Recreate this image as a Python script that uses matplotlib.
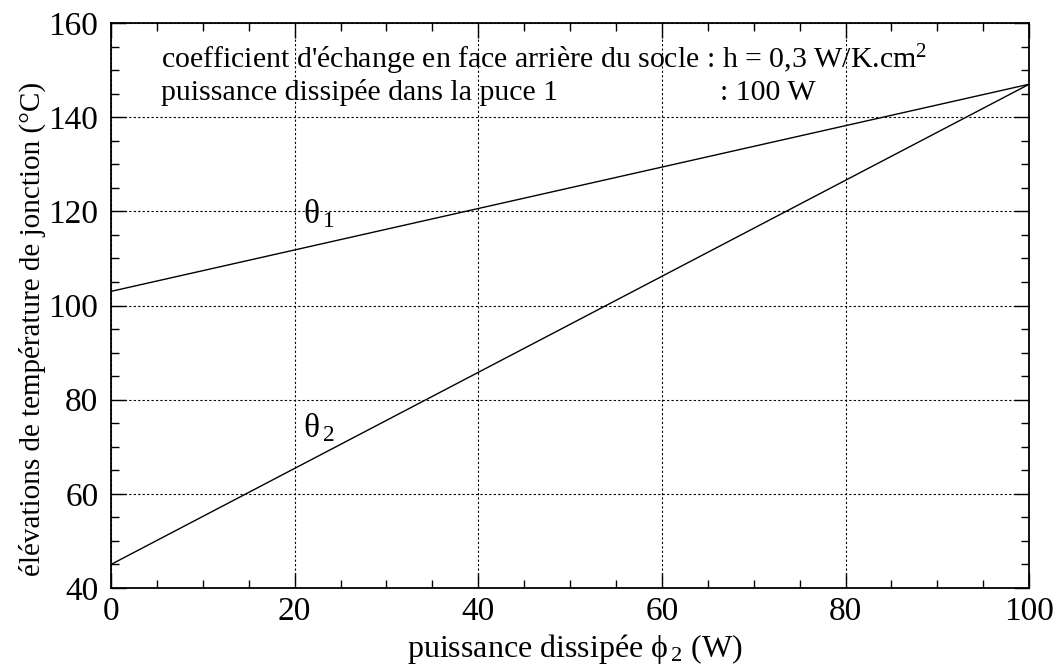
import matplotlib
matplotlib.use("Agg")
import matplotlib.pyplot as plt
from matplotlib.ticker import MultipleLocator

plt.rcParams['font.family'] = ['Liberation Serif', 'DejaVu Serif']
plt.rcParams['mathtext.fontset'] = 'custom'
plt.rcParams['mathtext.rm'] = 'Liberation Serif'
plt.rcParams['mathtext.it'] = 'Liberation Serif'

# puissance dissipee phi2 (W)
phi2 = [0, 20, 40, 60, 80, 100]
# elevations de temperature (degC)
theta1 = [103, 111.8, 120.6, 129.4, 138.2, 147]
theta2 = [45, 65.4, 85.8, 106.2, 126.6, 147]

fig = plt.figure(figsize=(10.61, 6.71), dpi=100)
ax = fig.add_axes([0.1046, 0.1237, 0.8654, 0.842])

ax.plot(phi2, theta1, color="black", lw=1.0)
ax.plot(phi2, theta2, color="black", lw=1.0)

ax.set_xlim(0, 100)
ax.set_ylim(40, 160)
ax.xaxis.set_major_locator(MultipleLocator(20))
ax.xaxis.set_minor_locator(MultipleLocator(5))
ax.yaxis.set_major_locator(MultipleLocator(20))
ax.yaxis.set_minor_locator(MultipleLocator(5))
ax.tick_params(which="both", direction="in", top=True, right=True, width=1.0)
ax.tick_params(which="major", length=11, labelsize=24)
ax.tick_params(axis="x", which="major", pad=6)
ax.tick_params(axis="y", which="major", pad=9)
ax.tick_params(which="minor", length=6)
ax.grid(True, which="major", color="black", linestyle=(0, (2, 2)), lw=0.8)
for s in ax.spines.values():
    s.set_linewidth(1.3)

ax.set_xlabel("puissance dissipée ϕ$_{\\,2}$ (W)", fontsize=23)
ax.xaxis.set_label_coords(0.505, -0.078)
ax.set_ylabel("élévations de température de jonction (°C)", fontsize=21)
ax.yaxis.set_label_coords(-0.071, 0.458)

ax.text(20.9, 117.5, "θ$_{\\,1}$", fontsize=24)
ax.text(20.9, 72.1, "θ$_{\\,2}$", fontsize=24)

ax.text(5.5, 150.45, "coefficient d'échange en face arrière du socle : h = 0,3 W/K.cm$^2$",
        fontsize=21.5)
ax.text(5.5, 143.65, "puissance dissipée dans la puce 1", fontsize=21.5)
ax.text(66.3, 143.65, ": 100 W", fontsize=21.5)

fig.savefig("out.png", dpi=100)
